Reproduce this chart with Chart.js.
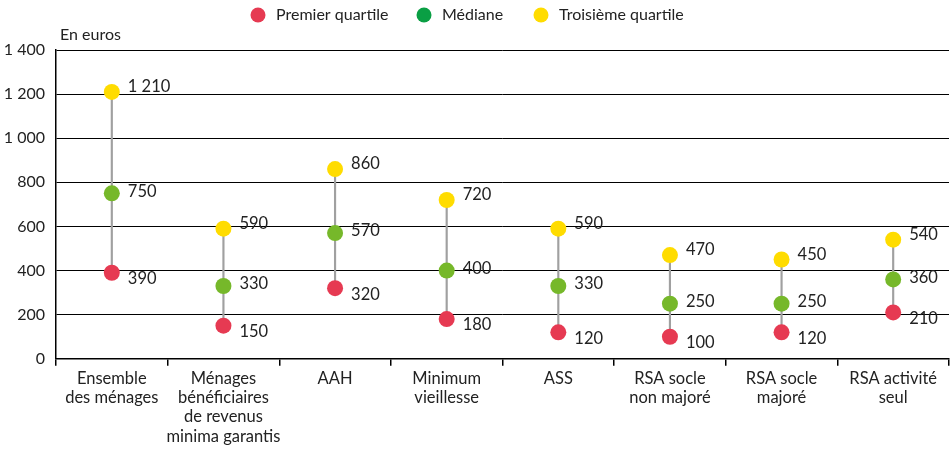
<!DOCTYPE html>
<html>
<head>
<meta charset="utf-8">
<script src="https://cdn.jsdelivr.net/npm/chart.js@4.4.1/dist/chart.umd.min.js"></script>
<style>
  html, body { margin: 0; padding: 0; background: #fff; }
  #wrap { width: 951px; height: 457px; }
</style>
</head>
<body>
<div id="wrap"><canvas id="chart"></canvas></div>
<script>
var categories = [
    ['Ensemble', 'des ménages'],
    ['Ménages', 'bénéficiaires', 'de revenus', 'minima garantis'],
    'AAH',
    ['Minimum', 'vieillesse'],
    'ASS',
    ['RSA socle', 'non majoré'],
    ['RSA socle', 'majoré'],
    ['RSA activité', 'seul']
];
var premierQuartile = [390, 150, 320, 180, 120, 100, 120, 210];
var mediane = [750, 330, 570, 400, 330, 250, 250, 360];
var troisiemeQuartile = [1210, 590, 860, 720, 590, 470, 450, 540];
var yTicks = [0, 200, 400, 600, 800, 1000, 1200, 1400];

var FONT = "Lato, sans-serif";
var RED = '#e63a52', GREEN = '#76b82a', GREEN_LEGEND = '#0a9f44', YELLOW = '#ffdc00';

function fmt(v) {
    return String(v).replace(/\B(?=(\d{3})+(?!\d))/g, ' ');
}

// legend, value labels next to the points, "En euros"
var labelsPlugin = {
    id: 'valueLabels',
    afterDatasetsDraw(chart) {
        var ctx = chart.ctx;
        ctx.save();
        ctx.font = '16.5px ' + FONT;
        ctx.fillStyle = '#222';
        ctx.textBaseline = 'middle';
        ctx.textAlign = 'left';
        var shifts = {1: 6, 2: -2, 3: -5};
        [1, 2, 3].forEach(function(di) {
            var meta = chart.getDatasetMeta(di);
            meta.data.forEach(function(pt, i) {
                var v = chart.data.datasets[di].data[i];
                ctx.fillText(fmt(v), pt.x + 16, pt.y + shifts[di]);
            });
        });

        // legend
        ctx.font = '16px ' + FONT;
        var legendX = [258, 424, 541];
        [1, 2, 3].forEach(function(di, k) {
            var ds = chart.data.datasets[di];
            ctx.beginPath();
            ctx.fillStyle = ds.backgroundColor;
            ctx.arc(legendX[k], 15, 7.5, 0, Math.PI * 2);
            ctx.fill();
            ctx.fillStyle = '#222';
            ctx.fillText(ds.label, legendX[k] + 18, 15);
        });

        ctx.textBaseline = 'alphabetic';
        ctx.fillText('En euros', chart.chartArea.left + 4, chart.chartArea.top - 10);
        ctx.restore();
    }
};

new Chart(document.getElementById('chart'), {
    data: {
        labels: categories,
        datasets: [{
            type: 'bar',
            label: 'range',
            data: premierQuartile.map(function(q, i) { return [q, troisiemeQuartile[i]]; }),
            backgroundColor: '#a0a0a0',
            barThickness: 1.5,
            grouped: false,
            order: 10
        }, {
            type: 'line',
            label: 'Premier quartile',
            data: premierQuartile,
            showLine: false,
            pointRadius: 8,
            pointHoverRadius: 8,
            pointBackgroundColor: RED,
            pointBorderWidth: 0,
            backgroundColor: RED,
            borderColor: RED,
            order: 1
        }, {
            type: 'line',
            label: 'Médiane',
            data: mediane,
            showLine: false,
            pointRadius: 8,
            pointHoverRadius: 8,
            pointBackgroundColor: GREEN,
            pointBorderWidth: 0,
            backgroundColor: GREEN_LEGEND,
            borderColor: GREEN_LEGEND,
            order: 1
        }, {
            type: 'line',
            label: 'Troisième quartile',
            data: troisiemeQuartile,
            showLine: false,
            pointRadius: 8,
            pointHoverRadius: 8,
            pointBackgroundColor: YELLOW,
            pointBorderWidth: 0,
            backgroundColor: YELLOW,
            borderColor: YELLOW,
            order: 1
        }]
    },
    options: {
        responsive: true,
        maintainAspectRatio: false,
        animation: false,
        layout: { autoPadding: false, padding: { left: 2, right: 2, top: 50, bottom: 8 } },
        plugins: {
            tooltip: { enabled: false },
            legend: { display: false }
        },
        scales: {
            x: {
                offset: true,
                afterFit: function(s) { s.paddingLeft = 0; s.paddingRight = 0; },
                grid: {
                    offset: true,
                    drawOnChartArea: false,
                    drawTicks: true,
                    tickLength: 7,
                    color: '#000',
                    lineWidth: 1.5
                },
                border: { color: '#000', width: 1.5 },
                ticks: {
                    color: '#222',
                    font: { family: FONT, size: 16.5, lineHeight: 1.17 },
                    maxRotation: 0,
                    autoSkip: false,
                    padding: 3
                }
            },
            y: {
                min: 0,
                max: 1400,
                afterBuildTicks: function(axis) {
                    axis.ticks = yTicks.map(function(v) { return { value: v }; });
                },
                afterFit: function(s) { s.width = 54; },
                grid: {
                    color: '#000',
                    lineWidth: 1,
                    drawTicks: false
                },
                border: { color: '#000', width: 1.5 },
                ticks: {
                    color: '#222',
                    font: { family: FONT, size: 16 },
                    padding: 11,
                    callback: function(v) { return fmt(v); }
                }
            }
        }
    },
    plugins: [labelsPlugin]
});
</script>
</body>
</html>
